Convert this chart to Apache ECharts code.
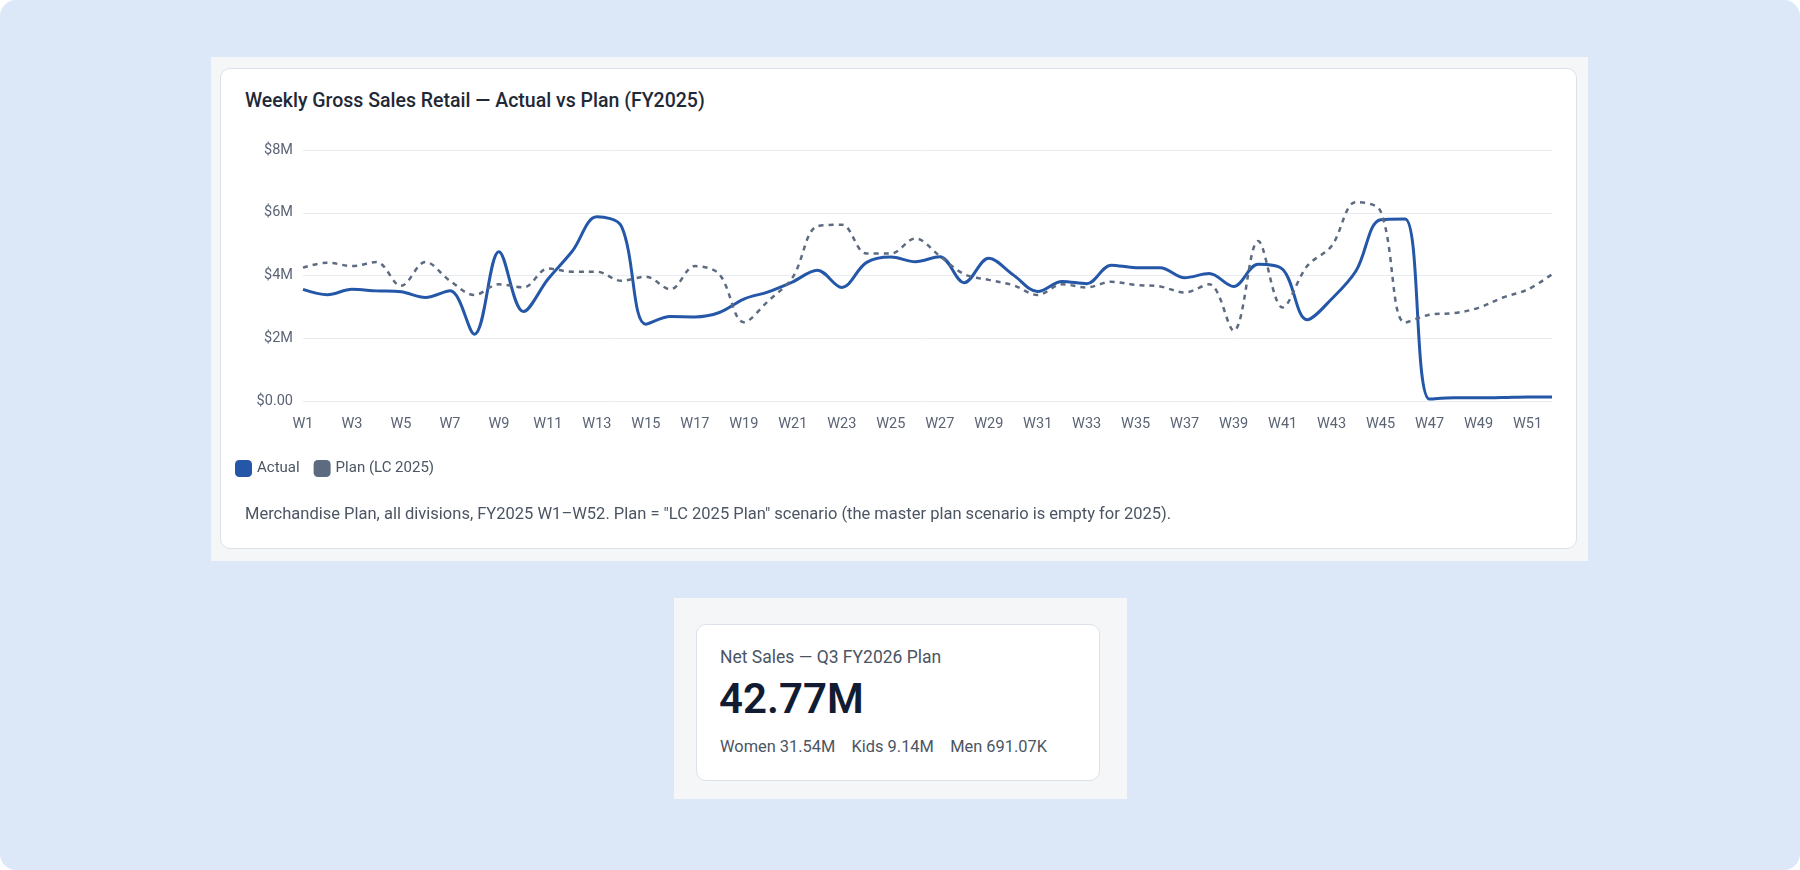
<!DOCTYPE html>
<html><head><meta charset="utf-8">
<script src="https://cdn.jsdelivr.net/npm/echarts@6/dist/echarts.min.js"></script>
<style>
html,body{margin:0;padding:0;width:1800px;height:870px;background:#fff;font-family:Roboto,"Noto Sans",sans-serif;}
#bg{position:absolute;left:0;top:0;width:1800px;height:870px;background:#dce8f8;border-radius:16px;}
.panel{position:absolute;background:#f5f6f8;}
.card{position:absolute;background:#fff;border:1px solid #dde2ea;border-radius:10px;box-sizing:border-box;}
#title{position:absolute;left:245px;top:89px;font-size:19.5px;font-weight:500;color:#1f2937;}
#note{position:absolute;left:245px;top:504px;font-size:16.5px;color:#4b5563;}
#chart{position:absolute;left:220px;top:68px;width:1357px;height:481px;}
</style></head><body>
<div id="bg"></div>
<div class="panel" style="left:211px;top:57px;width:1377px;height:504px;"></div>
<div class="card" style="left:220px;top:68px;width:1357px;height:481px;"></div>
<div id="title">Weekly Gross Sales Retail — Actual vs Plan (FY2025)</div>
<div id="chart"></div>
<div id="note">Merchandise Plan, all divisions, FY2025 W1–W52. Plan = "LC 2025 Plan" scenario (the master plan scenario is empty for 2025).</div>
<div class="panel" style="left:674px;top:598px;width:453px;height:201px;"></div>
<div class="card" style="left:696px;top:624px;width:404px;height:157px;"></div>
<div style="position:absolute;left:720px;top:647px;font-size:17.5px;color:#4b5563;">Net Sales — Q3 FY2026 Plan</div>
<div style="position:absolute;left:719px;top:674px;font-size:42px;font-weight:600;color:#111c33;">42.77M</div>
<div style="position:absolute;left:720px;top:737px;font-size:16.4px;color:#4b5563;">Women 31.54M&nbsp;&nbsp;&nbsp;&nbsp;Kids 9.14M&nbsp;&nbsp;&nbsp;&nbsp;Men 691.07K</div>
<script>
const weeks = Array.from({length:52},(_,i)=>'W'+(i+1));
const actualM = [3.56,3.39,3.56,3.51,3.48,3.30,3.51,2.13,4.76,2.85,3.88,4.78,5.87,5.57,2.45,2.69,2.68,2.82,3.25,3.48,3.80,4.17,3.62,4.41,4.59,4.44,4.60,3.77,4.55,4.02,3.49,3.81,3.74,4.33,4.25,4.25,3.93,4.06,3.65,4.36,4.20,2.59,3.25,4.15,5.78,5.80,0.06,0.10,0.10,0.11,0.13,0.13];
const planM = [4.25,4.41,4.30,4.43,3.67,4.43,3.83,3.38,3.72,3.62,4.22,4.12,4.12,3.83,3.96,3.56,4.30,4.04,2.51,3.19,3.95,5.57,5.62,4.70,4.70,5.18,4.62,4.04,3.86,3.69,3.38,3.72,3.62,3.80,3.70,3.65,3.46,3.72,2.24,5.10,2.98,4.30,4.94,6.34,6.05,2.50,2.75,2.80,2.97,3.30,3.55,4.04];
const toDollars = a => a.map(v=>Math.round(v*1e6));
const chart = echarts.init(document.getElementById('chart'));
chart.setOption({
  animation:false,
  textStyle:{fontFamily:'Roboto'},
  grid:{left:83,right:25,top:82,bottom:148},
  legend:{left:10,top:387,itemWidth:17,itemHeight:17,itemGap:14,textStyle:{color:'#4b5563',fontSize:15},
    data:[{name:'Actual',icon:'roundRect'},{name:'Plan (LC 2025)',icon:'roundRect'}]},
  xAxis:{type:'category',data:weeks,boundaryGap:false,
    axisLine:{show:false},axisTick:{show:false},
    axisLabel:{interval:1,color:'#5b6475',fontSize:14.5,margin:16}},
  yAxis:{type:'value',min:0,max:8e6,interval:2e6,
    splitLine:{lineStyle:{color:'#e8ebf0'}},
    axisLabel:{color:'#5b6475',fontSize:14.5,margin:10,formatter:v=>v===0?'$0.00':'$'+(v/1e6)+'M'}},
  series:[
    {name:'Actual',type:'line',data:toDollars(actualM),smooth:0.35,showSymbol:false,
      lineStyle:{color:'#2457a8',width:3},itemStyle:{color:'#2457a8'}},
    {name:'Plan (LC 2025)',type:'line',data:toDollars(planM),smooth:0.35,showSymbol:false,
      lineStyle:{color:'#5d6b80',width:2.5,type:[5,5]},itemStyle:{color:'#5d6b80'}}
  ]
});
</script>
</body></html>
